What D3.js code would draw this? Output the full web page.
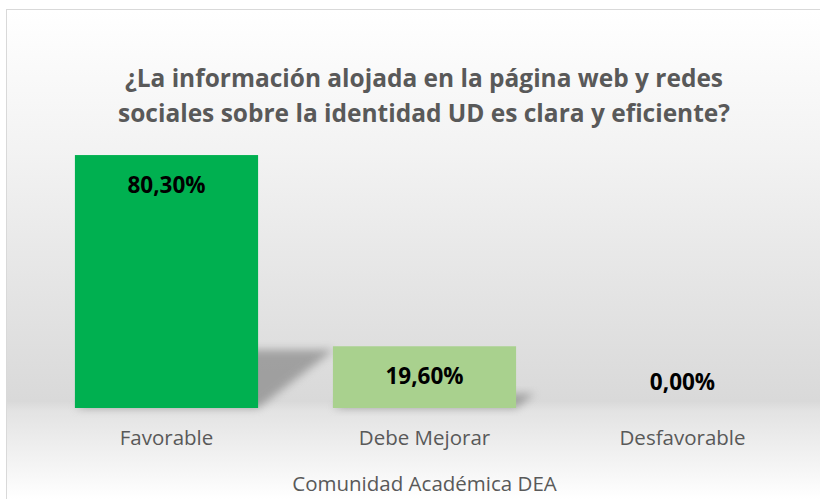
<!DOCTYPE html>
<html>
<head>
<meta charset="utf-8">
<script src="https://cdn.jsdelivr.net/npm/d3@7/dist/d3.min.js"></script>
<style>
  html, body { margin: 0; padding: 0; background: #fff; }
  svg { display: block; }
</style>
</head>
<body>
<script>
// data
const categories = ["Favorable", "Debe Mejorar", "Desfavorable"];
const values = [80.3, 19.6, 0];
const valueLabels = ["80,30%", "19,60%", "0,00%"];
const barColors = ["#00B050", "#A9D18E", "#A9D18E"];
const titleLines = [
  "¿La información alojada en la página web y redes",
  "sociales sobre la identidad UD es clara y eficiente?"
];
const axisTitle = "Comunidad Académica DEA";

const width = 820, height = 499;
const baseline = 408;

const svg = d3.select("body").append("svg")
  .attr("width", width)
  .attr("height", height);

const defs = svg.append("defs");

const grad = defs.append("linearGradient")
  .attr("id", "bg")
  .attr("gradientUnits", "userSpaceOnUse")
  .attr("x1", 0).attr("y1", 10).attr("x2", 0).attr("y2", 499);
[[0, "#ffffff"], [0.28, "#f3f3f3"], [0.8, "#d9d9d9"], [0.82, "#e3e3e3"], [1, "#ffffff"]]
  .forEach(s => grad.append("stop").attr("offset", s[0]).attr("stop-color", s[1]));

defs.append("filter")
  .attr("id", "blur")
  .attr("x", "-50%").attr("y", "-50%").attr("width", "200%").attr("height", "200%")
  .append("feGaussianBlur").attr("stdDeviation", 4.5);

// chart area
svg.append("rect")
  .attr("x", 6.5).attr("y", 9.5)
  .attr("width", 830).attr("height", 510)
  .attr("fill", "url(#bg)")
  .attr("stroke", "#d9d9d9")
  .attr("stroke-width", 1);

// scales
const x = d3.scaleBand()
  .domain(categories)
  .range([37.5, 811.5])
  .paddingInner(0.29)
  .paddingOuter(0.145);

const y = d3.scaleLinear()
  .domain([0, 100])
  .range([baseline, baseline - 315]);

const data = categories.map((c, i) => ({ cat: c, v: values[i], label: valueLabels[i], color: barColors[i] }));

// perspective shadows behind the bars
const g = svg.append("g");
g.selectAll("path.shadow")
  .data(data.filter(d => d.v > 0))
  .join("path")
  .attr("class", "shadow")
  .attr("d", d => {
    const h = y(0) - y(d.v);
    const dx = h * 0.3, dy = h * 0.23;
    const x0 = x(d.cat), x1 = x(d.cat) + x.bandwidth();
    return `M${x0},${baseline}L${x1},${baseline}L${x1 + dx},${baseline - dy}L${x0 + dx},${baseline - dy}Z`;
  })
  .attr("fill", "#808080")
  .attr("opacity", 0.65)
  .attr("filter", "url(#blur)");

// bars
g.selectAll("rect.bar")
  .data(data)
  .join("rect")
  .attr("class", "bar")
  .attr("x", d => x(d.cat))
  .attr("y", d => y(d.v))
  .attr("width", x.bandwidth())
  .attr("height", d => y(0) - y(d.v))
  .attr("fill", d => d.color);

// value labels
g.selectAll("text.val")
  .data(data)
  .join("text")
  .attr("class", "val")
  .attr("x", d => x(d.cat) + x.bandwidth() / 2)
  .attr("y", d => d.v > 0 ? y(d.v) + 29 : y(0) - 27)
  .attr("text-anchor", "middle")
  .attr("dominant-baseline", "central")
  .attr("font-family", "'Open Sans', sans-serif")
  .attr("font-weight", "bold")
  .attr("font-size", 22.5)
  .attr("fill", "#000")
  .text(d => d.label);

// category axis (labels only)
const xAxis = d3.axisBottom(x).tickSize(0).tickPadding(0);
const gx = svg.append("g")
  .attr("transform", `translate(0,${baseline})`)
  .call(xAxis);
gx.select(".domain").remove();
gx.selectAll("text")
  .attr("y", 29)
  .attr("dy", null)
  .attr("dominant-baseline", "central")
  .attr("font-family", "'Open Sans', sans-serif")
  .attr("font-size", 20.5)
  .attr("fill", "#595959");

// axis title
svg.append("text")
  .attr("x", (x.range()[0] + x.range()[1]) / 2)
  .attr("y", 483)
  .attr("text-anchor", "middle")
  .attr("dominant-baseline", "central")
  .attr("font-family", "'Open Sans', sans-serif")
  .attr("font-size", 20.5)
  .attr("fill", "#595959")
  .text(axisTitle);

// title
svg.selectAll("text.title")
  .data(titleLines)
  .join("text")
  .attr("class", "title")
  .attr("x", 424)
  .attr("y", (d, i) => 77 + i * 35)
  .attr("text-anchor", "middle")
  .attr("dominant-baseline", "central")
  .attr("font-family", "'Open Sans', sans-serif")
  .attr("font-weight", "bold")
  .attr("font-size", 25)
  .attr("textLength", (d, i) => i === 0 ? 598 : 612)
  .attr("lengthAdjust", "spacingAndGlyphs")
  .attr("fill", "#595959")
  .text(d => d);
</script>
</body>
</html>
